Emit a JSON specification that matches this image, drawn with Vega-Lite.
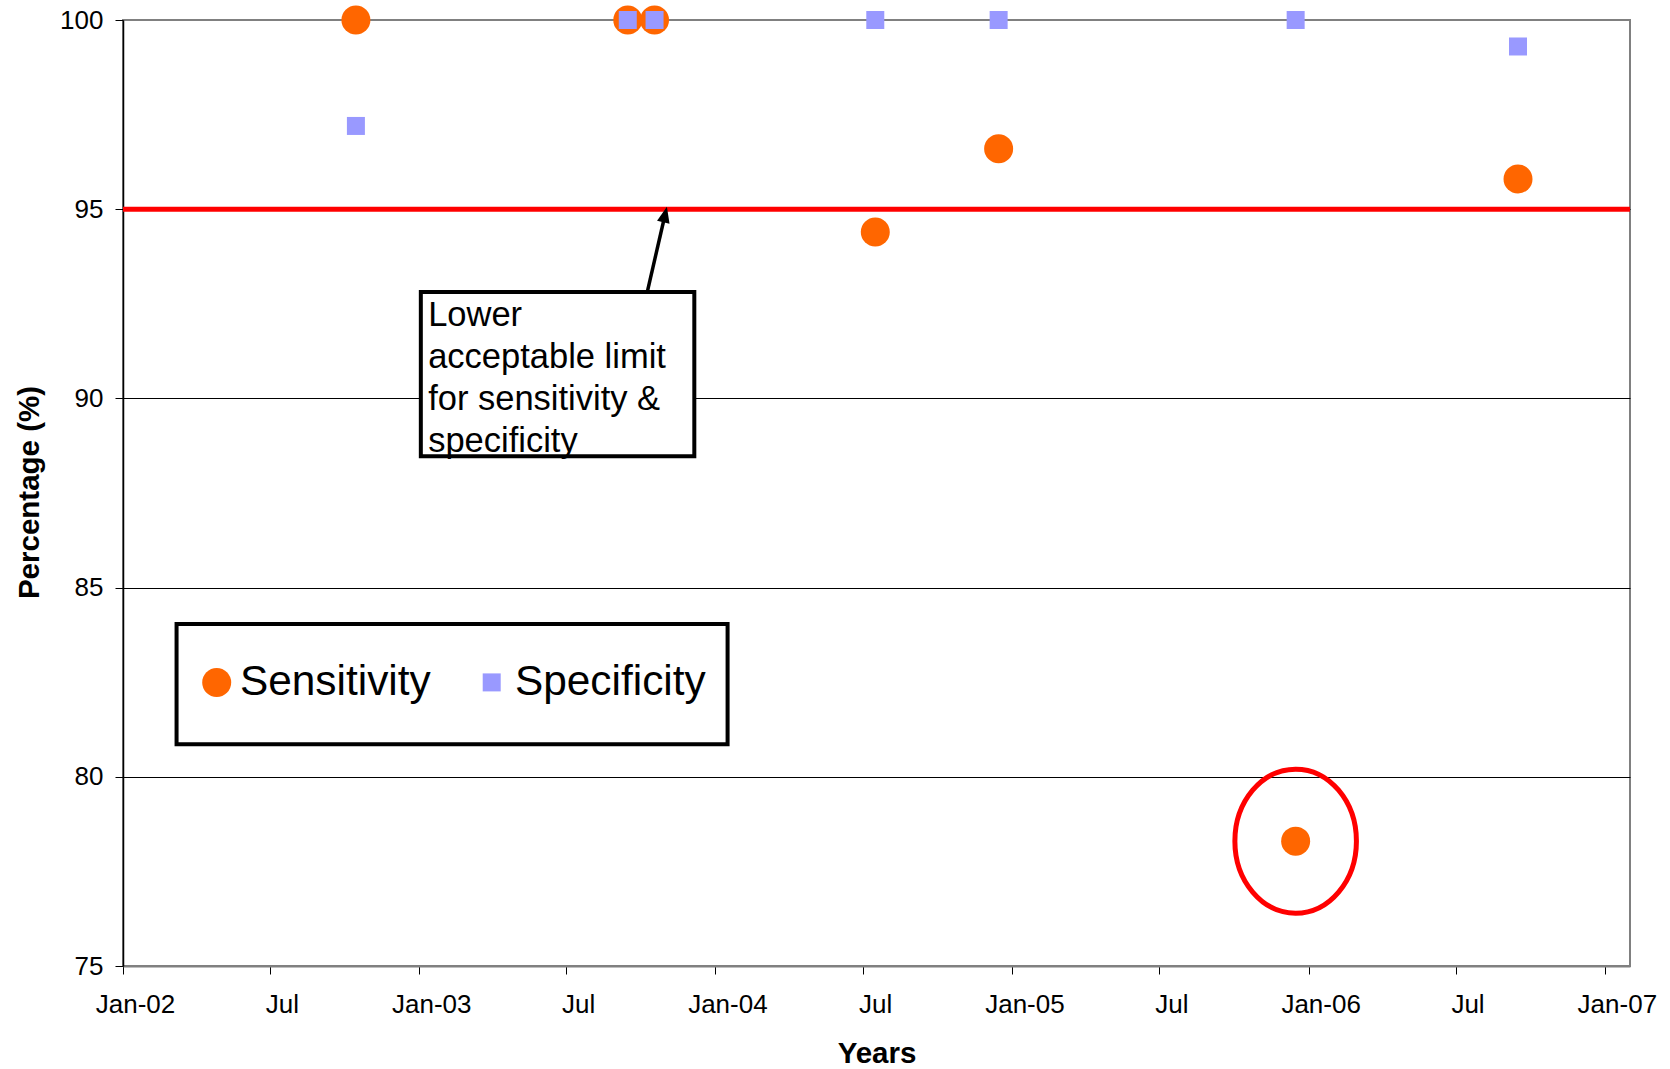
{
  "$schema": "https://vega.github.io/schema/vega-lite/v6.json",
  "width": 1507,
  "height": 946,
  "autosize": {"type": "none"},
  "padding": {"left": 123, "top": 20, "right": 40, "bottom": 103},
  "background": "white",
  "config": {
    "font": "Liberation Sans",
    "view": {"stroke": "#808080", "strokeWidth": 2},
    "axis": {
      "labelFont": "Liberation Sans",
      "titleFont": "Liberation Sans",
      "labelColor": "#000",
      "titleColor": "#000",
      "labelFontSize": 26,
      "titleFontSize": 29.5,
      "titleFontWeight": "bold",
      "tickColor": "#000",
      "tickSize": 8,
      "tickWidth": 1,
      "labelFlush": false,
      "labelOverlap": false
    }
  },
  "datasets": {
    "series": [
      {"date": "2002-10-15", "series": "Sensitivity", "value": 100},
      {"date": "2003-09-15", "series": "Sensitivity", "value": 100},
      {"date": "2003-10-18", "series": "Sensitivity", "value": 100},
      {"date": "2004-07-16", "series": "Sensitivity", "value": 94.4},
      {"date": "2004-12-15", "series": "Sensitivity", "value": 96.6},
      {"date": "2005-12-16", "series": "Sensitivity", "value": 78.3},
      {"date": "2006-09-16", "series": "Sensitivity", "value": 95.8},
      {"date": "2002-10-15", "series": "Specificity", "value": 97.2},
      {"date": "2003-09-15", "series": "Specificity", "value": 100},
      {"date": "2003-10-18", "series": "Specificity", "value": 100},
      {"date": "2004-07-16", "series": "Specificity", "value": 100},
      {"date": "2004-12-15", "series": "Specificity", "value": 100},
      {"date": "2005-12-16", "series": "Specificity", "value": 100},
      {"date": "2006-09-16", "series": "Specificity", "value": 99.3}
    ],
    "limit": [{"value": 95}],
    "box": [{"x0": "2003-01-03", "x1": "2003-12-06", "y0": 92.81, "y1": 88.47}],
    "note": [{"date": "2003-01-12", "value": 91.92, "label": "Lower\nacceptable limit\nfor sensitivity &\nspecificity"}],
    "arrow": [{"x0": "2003-10-09", "y0": 92.81, "x1": "2003-10-31", "y1": 94.86}],
    "legendframe": [{"x0": "2002-03-08", "x1": "2004-01-16", "y0": 84.04, "y1": 80.86}],
    "highlight": [{"date": "2005-12-16", "value": 78.3}]
  },
  "layer": [
    {
      "data": {"name": "limit"},
      "mark": {"type": "rule", "color": "#FF0000", "strokeWidth": 5},
      "encoding": {
        "y": {"field": "value", "type": "quantitative", "title": "Percentage (%)"}
      }
    },
    {
      "data": {"name": "box"},
      "mark": {"type": "rect", "fill": "white", "stroke": "#000", "strokeWidth": 4},
      "encoding": {
        "x": {"field": "x0", "type": "temporal", "title": "Years"},
        "x2": {"field": "x1"},
        "y": {"field": "y0", "type": "quantitative", "title": "Percentage (%)"},
        "y2": {"field": "y1"}
      }
    },
    {
      "data": {"name": "note"},
      "mark": {"type": "text", "align": "left", "baseline": "alphabetic", "fontSize": 34.5, "lineHeight": 42, "font": "Liberation Sans", "color": "#000", "lineBreak": "\n"},
      "encoding": {
        "x": {"field": "date", "type": "temporal", "title": "Years"},
        "y": {"field": "value", "type": "quantitative", "title": "Percentage (%)"},
        "text": {"field": "label"}
      }
    },
    {
      "data": {"name": "arrow"},
      "mark": {"type": "rule", "color": "#000", "strokeWidth": 3.5},
      "encoding": {
        "x": {"field": "x0", "type": "temporal", "title": "Years"},
        "x2": {"field": "x1"},
        "y": {"field": "y0", "type": "quantitative", "title": "Percentage (%)"},
        "y2": {"field": "y1"}
      }
    },
    {
      "data": {"name": "arrow"},
      "mark": {"type": "point", "shape": "M0,-1L0.8,1L-0.8,1Z", "size": 256, "angle": 13, "filled": true, "color": "#000", "opacity": 1},
      "encoding": {
        "x": {"field": "x1", "type": "temporal", "title": "Years"},
        "y": {"field": "y1", "type": "quantitative", "title": "Percentage (%)"}
      }
    },
    {
      "data": {"name": "legendframe"},
      "mark": {"type": "rect", "fill": "white", "stroke": "#000", "strokeWidth": 4},
      "encoding": {
        "x": {"field": "x0", "type": "temporal", "title": "Years"},
        "x2": {"field": "x1"},
        "y": {"field": "y0", "type": "quantitative", "title": "Percentage (%)"},
        "y2": {"field": "y1"}
      }
    },
    {
      "data": {"name": "series"},
      "mark": {"type": "point", "filled": true, "opacity": 1, "strokeWidth": 0},
      "encoding": {
        "x": {
          "field": "date",
          "type": "temporal",
          "title": "Years",
          "scale": {"type": "utc", "domain": [{"year": 2002, "month": 1, "date": 1, "utc": true}, {"year": 2007, "month": 2, "date": 1, "utc": true}]},
          "axis": {
            "values": [
              {"year": 2002, "month": 1, "date": 1, "utc": true},
              {"year": 2002, "month": 7, "date": 1, "utc": true},
              {"year": 2003, "month": 1, "date": 1, "utc": true},
              {"year": 2003, "month": 7, "date": 1, "utc": true},
              {"year": 2004, "month": 1, "date": 1, "utc": true},
              {"year": 2004, "month": 7, "date": 1, "utc": true},
              {"year": 2005, "month": 1, "date": 1, "utc": true},
              {"year": 2005, "month": 7, "date": 1, "utc": true},
              {"year": 2006, "month": 1, "date": 1, "utc": true},
              {"year": 2006, "month": 7, "date": 1, "utc": true},
              {"year": 2007, "month": 1, "date": 1, "utc": true}
            ],
            "labelExpr": "utcFormat(datum.value, '%m') == '01' ? utcFormat(datum.value, '%b-%y') : utcFormat(datum.value, '%b')",
            "labelOffset": 12,
            "labelPadding": 17,
            "domainColor": "#808080",
            "domainWidth": 2,
            "grid": false,
            "titleY": 96,
            "titleBaseline": "alphabetic"
          }
        },
        "y": {
          "field": "value",
          "type": "quantitative",
          "title": "Percentage (%)",
          "scale": {"domain": [75, 100], "nice": false, "zero": false},
          "axis": {
            "values": [75, 80, 85, 90, 95, 100],
            "grid": true,
            "gridColor": {"condition": {"test": "datum.value == 100 || datum.value == 75", "value": "transparent"}, "value": "#000"},
            "gridWidth": 1,
            "domainColor": "#000",
            "domainWidth": 1.5,
            "labelPadding": 12,
            "titleX": -85,
            "titleY": 472,
            "titleAngle": -90,
            "titleAlign": "center",
            "titleBaseline": "alphabetic"
          }
        },
        "color": {
          "field": "series",
          "type": "nominal",
          "scale": {"domain": ["Sensitivity", "Specificity"], "range": ["#FF6600", "#9999FF"]},
          "legend": {"title": null, "orient": "none", "legendX": 72.5, "legendY": 641, "direction": "horizontal", "labelFontSize": 42.4, "labelFont": "Liberation Sans", "labelColor": "#000", "labelLimit": 600, "labelOffset": 2, "columnPadding": 39, "padding": 0, "symbolStrokeWidth": 0, "symbolOpacity": 1}
        },
        "shape": {
          "field": "series",
          "type": "nominal",
          "scale": {"domain": ["Sensitivity", "Specificity"], "range": ["circle", "square"]},
          "legend": {"title": null, "orient": "none", "legendX": 72.5, "legendY": 641, "direction": "horizontal", "labelFontSize": 42.4, "labelFont": "Liberation Sans", "labelColor": "#000", "labelLimit": 600, "labelOffset": 2, "columnPadding": 39, "padding": 0, "symbolStrokeWidth": 0, "symbolOpacity": 1}
        },
        "size": {
          "field": "series",
          "type": "nominal",
          "scale": {"domain": ["Sensitivity", "Specificity"], "range": [841, 324]},
          "legend": {"title": null, "orient": "none", "legendX": 72.5, "legendY": 641, "direction": "horizontal", "labelFontSize": 42.4, "labelFont": "Liberation Sans", "labelColor": "#000", "labelLimit": 600, "labelOffset": 2, "columnPadding": 39, "padding": 0, "symbolStrokeWidth": 0, "symbolOpacity": 1}
        }
      }
    },
    {
      "data": {"name": "highlight"},
      "mark": {"type": "point", "shape": "M0,-1A0.844,1,0,1,1,0,1A0.844,1,0,1,1,0,-1Z", "size": 20736, "filled": false, "stroke": "#FF0000", "strokeWidth": 5, "opacity": 1},
      "encoding": {
        "x": {"field": "date", "type": "temporal", "title": "Years"},
        "y": {"field": "value", "type": "quantitative", "title": "Percentage (%)"}
      }
    }
  ]
}
